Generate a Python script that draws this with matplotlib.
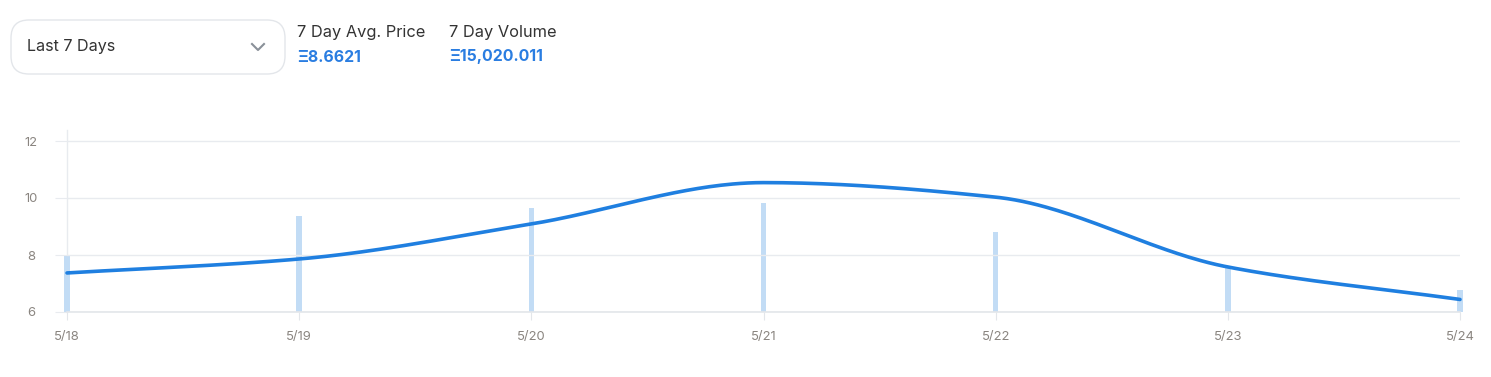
import numpy as np
import matplotlib
matplotlib.use("Agg")
import matplotlib.pyplot as plt
from matplotlib.patches import FancyBboxPatch

plt.rcParams['font.family'] = ['Inter', 'DejaVu Sans']

dates = ["5/18", "5/19", "5/20", "5/21", "5/22", "5/23", "5/24"]
avg_price = [7.37, 7.86, 9.09, 10.54, 10.03, 7.58, 6.44]
volume = [1666, 2805, 3039, 3185, 2338, 1344, 643]
y_ticks = [6, 8, 10, 12]

W, H = 1491, 377
fig = plt.figure(figsize=(W / 100, H / 100), dpi=100)

def fx(px):
    return px / W

def fy(py):
    return 1 - py / H

# header
box = FancyBboxPatch((fx(11), fy(74)), fx(274), fy(20) - fy(74),
                     boxstyle="round,pad=0,rounding_size=0.012",
                     transform=fig.transFigure, facecolor="white",
                     edgecolor="#e3e6ea", linewidth=1.0, mutation_aspect=W / H)
fig.patches.append(box)
fig.text(fx(27), fy(47), "Last 7 Days", fontsize=11.6, color="#333333", va="center")
fig.lines.append(plt.Line2D([fx(252), fx(258), fx(264)], [fy(44), fy(50), fy(44)],
                            transform=fig.transFigure, color="#8a9099", linewidth=1.5))
fig.text(fx(297), fy(32), "7 Day Avg. Price", fontsize=11.8, color="#333333", va="center")
fig.text(fx(297), fy(57), "Ξ8.6621", fontsize=11.4, color="#2a7de1", va="center", fontweight="bold")
fig.text(fx(449), fy(32), "7 Day Volume", fontsize=11.8, color="#333333", va="center")
fig.text(fx(449), fy(57), "Ξ15,020.011", fontsize=11.4, color="#2a7de1", va="center", fontweight="bold")

# chart axes
left, right, top, bottom = 67, 1460, 129.6, 312
ax = fig.add_axes([fx(left), fy(bottom), fx(right - left), fy(top) - fy(bottom)])
ax2 = ax.twinx()
x = np.arange(len(dates))

# left vertical axis line behind the bars
ax2.axvline(0, color="#e8ebef", linewidth=1, zorder=0, clip_on=False)

# volume bars on hidden axis
bars = ax2.bar(x, volume, width=0.024, color="#c2dcf5", zorder=1)
for b in bars:
    b.set_clip_on(False)
ax2.set_ylim(0, max(volume) / 109 * 182.4)
ax2.axis("off")

# monotone cubic smoothing of the price line
def monotone(xs, ys, n=60):
    xs = np.asarray(xs, float); ys = np.asarray(ys, float)
    h = np.diff(xs); d = np.diff(ys) / h
    m = np.zeros_like(ys)
    m[0] = d[0]; m[-1] = d[-1]
    for i in range(1, len(ys) - 1):
        if d[i - 1] * d[i] <= 0:
            m[i] = 0
        else:
            m[i] = (h[i - 1] + h[i]) * 3 / ((2 * h[i] + h[i - 1]) / d[i - 1] + (h[i] + 2 * h[i - 1]) / d[i])
    X, Y = [], []
    for i in range(len(xs) - 1):
        t = np.linspace(0, 1, n, endpoint=(i == len(xs) - 2))
        h00 = 2 * t**3 - 3 * t**2 + 1; h10 = t**3 - 2 * t**2 + t
        h01 = -2 * t**3 + 3 * t**2; h11 = t**3 - t**2
        X.append(xs[i] + t * h[i])
        Y.append(h00 * ys[i] + h10 * h[i] * m[i] + h01 * ys[i + 1] + h11 * h[i] * m[i + 1])
    return np.concatenate(X), np.concatenate(Y)

sx, sy = monotone(x, avg_price)
ax.plot(sx, sy, color="#1f7fe0", linewidth=2.6, solid_capstyle="round", zorder=3, clip_on=False)
ax.set_zorder(ax2.get_zorder() + 1)
ax.patch.set_visible(False)

ax.set_xlim(0, len(dates) - 1)
ax.set_ylim(6, 12.4)
ax.set_yticks(y_ticks)
ax.set_xticks(x)
ax.set_xticklabels(dates)
ax.grid(axis="y", color="#e8ebef", linewidth=1)
for s in ["top", "right", "left"]:
    ax.spines[s].set_visible(False)
ax.spines["bottom"].set_color("#e3e6ea")
ax.spines["bottom"].set_linewidth(1.2)
ax.tick_params(axis="y", length=9, color="#e8ebef", labelsize=9.4, labelcolor="#8a8580", pad=17)
ax.tick_params(axis="x", length=6, color="#e3e6ea", labelsize=9.4, labelcolor="#8a8580", pad=8)
for lbl in ax.get_yticklabels():
    lbl.set_horizontalalignment("center")

fig.savefig("out.png", dpi=100, facecolor="white")
